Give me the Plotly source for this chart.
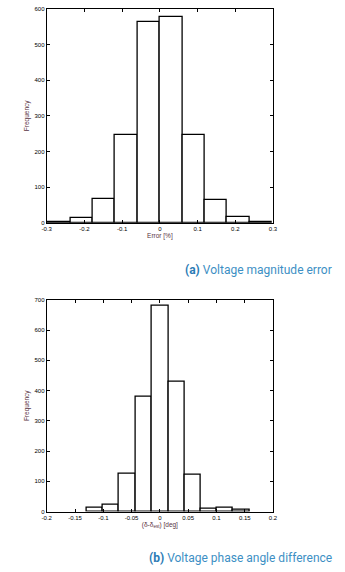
import plotly.graph_objects as go

# ---- data ----
mag_edges = [-0.297, -0.2376, -0.1782, -0.1188, -0.0594, 0.0, 0.0594, 0.1188, 0.1782, 0.2376, 0.297]
mag_counts = [3, 13, 66, 247, 563, 577, 245, 63, 16, 3]

ang_edges = [-0.1296, -0.1008, -0.0720, -0.0432, -0.0144, 0.0152, 0.0443, 0.0730, 0.1010, 0.1296, 0.1588]
ang_counts = [13, 22, 126, 378, 679, 430, 123, 9, 13, 5]

mag_ticks = [-0.3, -0.2, -0.1, 0, 0.1, 0.2, 0.3]
ang_ticks = [-0.2, -0.15, -0.1, -0.05, 0, 0.05, 0.1, 0.15, 0.2]

def centers(e):
    return [(e[i] + e[i + 1]) / 2 for i in range(len(e) - 1)]

def widths(e):
    return [e[i + 1] - e[i] for i in range(len(e) - 1)]

def fmt(v):
    return "%g" % v

fig = go.Figure()
bar_style = dict(marker=dict(color="white", line=dict(color="black", width=1.3)), showlegend=False, hoverinfo="skip")
fig.add_trace(go.Bar(x=centers(mag_edges), y=mag_counts, width=widths(mag_edges), xaxis="x", yaxis="y", **bar_style))
fig.add_trace(go.Bar(x=centers(ang_edges), y=ang_counts, width=widths(ang_edges), xaxis="x2", yaxis="y2", **bar_style))

W, H = 345, 572
xd = [43 / W, 276 / W]
y1 = [1 - 222 / H, 1 - 6 / H]
y2 = [1 - 514 / H, 1 - 300 / H]

tickfont = dict(family="Liberation Sans, Arial", size=6, color="black")
titlefont = dict(family="Liberation Sans, Arial", size=6.5, color="#5a3444")
common = dict(showline=True, linecolor="black", linewidth=1, mirror="allticks", ticks="inside",
              ticklen=3, tickcolor="black", tickwidth=1, showgrid=False, zeroline=False, tickfont=tickfont)

fig.update_layout(
    width=W, height=H, margin=dict(l=0, r=0, t=0, b=0),
    paper_bgcolor="white", plot_bgcolor="white", bargap=0,
    xaxis=dict(domain=xd, anchor="y", range=[-0.3, 0.3], tickvals=mag_ticks,
               ticktext=[fmt(v) for v in mag_ticks],
               title=dict(text="Error [%]", font=titlefont, standoff=2), **common),
    yaxis=dict(domain=y1, anchor="x", range=[0, 600], dtick=100,
               title=dict(text="Frequency", font=titlefont, standoff=4), **common),
    xaxis2=dict(domain=xd, anchor="y2", range=[-0.2, 0.2], tickvals=ang_ticks,
                ticktext=[fmt(v) for v in ang_ticks],
                title=dict(text="(δ-δ<sub>est</sub>) [deg]", font=titlefont, standoff=2), **common),
    yaxis2=dict(domain=y2, anchor="x2", range=[0, 700], dtick=100,
                title=dict(text="Frequency", font=titlefont, standoff=4), **common),
)

capfont = dict(family="Roboto, Noto Sans", size=12, color="#3d8fc4")
fig.add_annotation(text="<b><span style='color:#2b7bb5'>(a)</span></b> Voltage magnitude error",
                   xref="paper", yref="paper",
                   x=339 / W, y=1 - 269.5 / H, xanchor="right", yanchor="middle", showarrow=False, font=capfont)
fig.add_annotation(text="<b><span style='color:#2b7bb5'>(b)</span></b> Voltage phase angle difference",
                   xref="paper", yref="paper",
                   x=339 / W, y=1 - 561 / H, xanchor="right", yanchor="middle", showarrow=False, font=capfont)

fig.write_html("out.html", config={"displayModeBar": False},
               post_script="document.body.style.margin='0';document.body.style.overflow='hidden';")
